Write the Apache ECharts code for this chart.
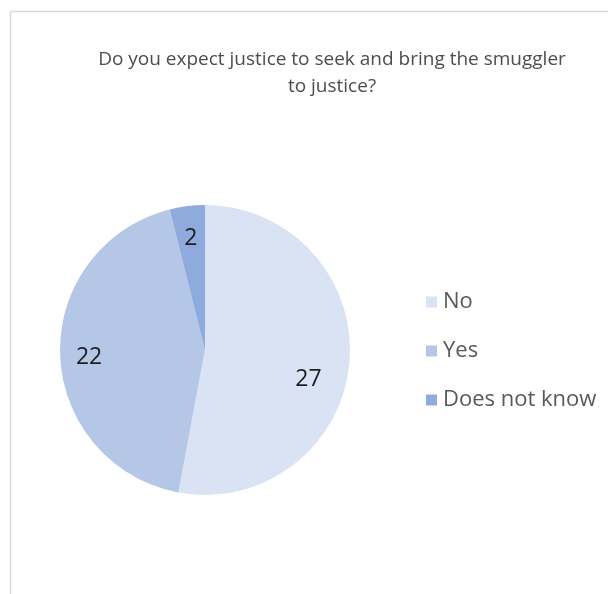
<!DOCTYPE html>
<html>
<head>
<meta charset="utf-8">
<script src="https://cdn.jsdelivr.net/npm/echarts@6/dist/echarts.min.js"></script>
<style>
  html, body { margin: 0; padding: 0; background: #ffffff; }
  #chart { width: 608px; height: 594px; }
</style>
</head>
<body>
<div id="chart"></div>
<script>
// Survey answers
const categories = ['No', 'Yes', 'Does not know'];
const counts = [27, 22, 2];
const sliceColors = ['#dae3f3', '#b4c7e7', '#8faadc'];
const titleText = 'Do you expect justice to seek and bring the smuggler\nto justice?';

const pieData = categories.map((name, i) => ({
  name: name,
  value: counts[i],
  itemStyle: { color: sliceColors[i] }
}));

const chart = echarts.init(document.getElementById('chart'), null, { renderer: 'canvas' });

chart.setOption({
  backgroundColor: '#ffffff',
  animation: false,
  graphic: [{
    type: 'rect',
    shape: { x: 10.5, y: 11.5, width: 700, height: 700 },
    style: { fill: 'none', stroke: '#d9d9d9', lineWidth: 1.5 },
    silent: true
  }],
  title: {
    text: titleText,
    left: 327,
    top: 41,
    textAlign: 'center',
    textStyle: {
      fontFamily: 'Open Sans',
      fontSize: 19,
      fontWeight: 'normal',
      color: '#4d4d4d',
      lineHeight: 27
    }
  },
  legend: {
    orient: 'vertical',
    left: 421,
    top: 286,
    itemWidth: 11,
    itemHeight: 11,
    itemGap: 27,
    icon: 'rect',
    data: categories,
    textStyle: {
      fontFamily: 'Open Sans',
      fontSize: 22,
      color: '#595959',
      lineHeight: 22,
      padding: [0, 0, 0, 1]
    }
  },
  series: [
    {
      // the slices
      type: 'pie',
      center: [205, 350],
      radius: [0, 145],
      startAngle: 90,
      clockwise: true,
      silent: true,
      label: { show: false },
      labelLine: { show: false },
      itemStyle: { borderWidth: 0 },
      data: pieData
    },
    {
      // value labels, set toward the rim of each slice
      type: 'pie',
      center: [205, 350],
      radius: [81, 145],
      startAngle: 90,
      clockwise: true,
      silent: true,
      legendHoverLink: false,
      itemStyle: { color: 'rgba(0,0,0,0)', borderWidth: 0 },
      label: {
        show: true,
        position: 'inside',
        formatter: '{c}',
        fontFamily: 'Open Sans',
        fontSize: 23,
        color: '#1e1e1e'
      },
      labelLine: { show: false },
      // nudge the large slice's label below its bisector, as in best-fit placement
      labelLayout: function (params) {
        return params.dataIndex === 0 ? { dx: -12, dy: 19 } : { dy: 4 };
      },
      data: categories.map((name, i) => ({ name: name, value: counts[i] }))
    }
  ]
});
</script>
</body>
</html>
